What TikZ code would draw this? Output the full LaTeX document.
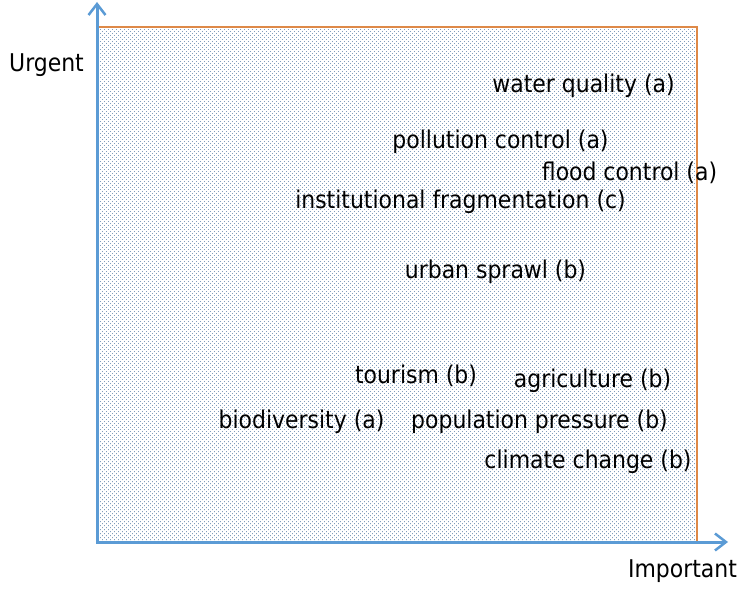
\documentclass[tikz,border=0pt]{standalone}
\usepackage{fontspec}
\setmainfont{DejaVu Sans Condensed}
\usetikzlibrary{patterns,arrows.meta}
\definecolor{axisblue}{RGB}{91,155,213}
\definecolor{frameorange}{RGB}{222,137,72}
\definecolor{dotgrey}{RGB}{130,158,188}
\pgfdeclarepatternformonly{fielddots}{\pgfqpoint{-1pt}{-1pt}}{\pgfqpoint{5pt}{5pt}}{\pgfqpoint{4pt}{4pt}}{%
  \pgfpathrectangle{\pgfqpoint{0pt}{0pt}}{\pgfqpoint{0.8pt}{0.8pt}}%
  \pgfpathrectangle{\pgfqpoint{2pt}{2pt}}{\pgfqpoint{0.8pt}{0.8pt}}%
  \pgfusepath{fill}}
\tikzset{
  axis/.style={draw=axisblue,line width=3pt,line cap=rect,
    -{Straight Barb[length=11pt,width=17pt,line width=2.5pt]}},
  issue/.style={anchor=base,inner sep=0pt,font=\fontsize{24.4}{28}\selectfont},
}

\begin{document}
\begin{tikzpicture}[x=1pt,y=-1pt]
  \useasboundingbox (0,0) rectangle (751,594);
  % the field of issues
  \fill[pattern=fielddots,pattern color=dotgrey] (98,27) rectangle (697,542);
  \draw[frameorange,line width=1.2pt] (98,27) rectangle (697,542);
  \coordinate (origin) at (97,542);
  \coordinate (ytip) at (97,2);
  \coordinate (xtip) at (728,542);
  \draw[axis] (origin) -- (ytip);
  \draw[axis] (origin) -- (xtip);
  \node[issue] (urgent) at (46.5,71) {Urgent};
  \node[issue] (important) at (682.5,577) {Important};
  \node[issue] (water) at (583.5,92) {water quality (a)};
  \node[issue] (pollution) at (500.5,148) {pollution control (a)};
  \node[issue] (flood) at (629.5,180) {flood control (a)};
  \node[issue] (institutional) at (460.5,208) {institutional fragmentation (c)};
  \node[issue] (sprawl) at (495.5,278) {urban sprawl (b)};
  \node[issue] (tourism) at (416,383) {tourism (b)};
  \node[issue] (agriculture) at (592.5,387) {agriculture (b)};
  \node[issue] (biodiversity) at (301.5,428) {biodiversity (a)};
  \node[issue] (population) at (539.5,428) {population pressure (b)};
  \node[issue] (climate) at (588,468) {climate change (b)};
\end{tikzpicture}
\end{document}
